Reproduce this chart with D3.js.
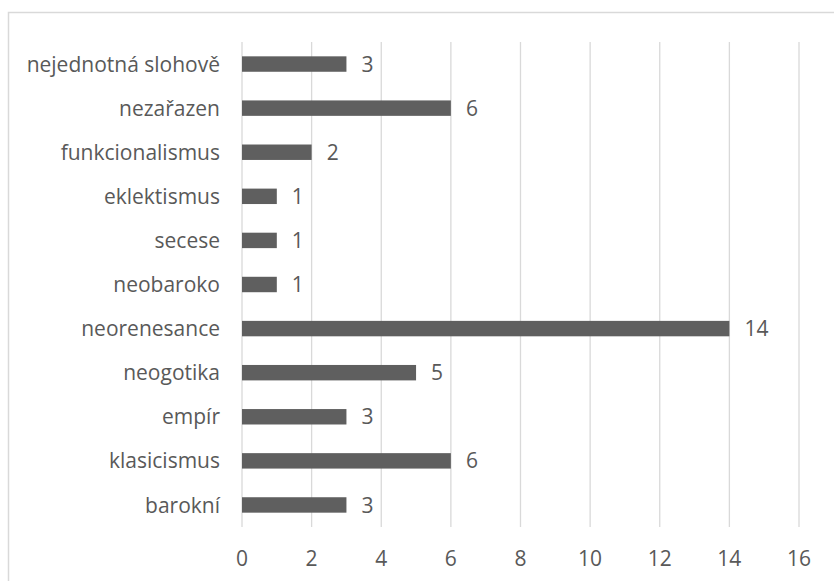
<!DOCTYPE html>
<html>
<head>
<meta charset="utf-8">
<script src="https://cdn.jsdelivr.net/npm/d3@7"></script>
<style>
    body { margin: 0; background: #fff; }
    text { font-family: "Open Sans", sans-serif; fill: #595959; }
</style>
</head>
<body>
<div id="viz"></div>
<script>
// categories top to bottom, as in the chart
let styles = ['nejednotná slohově', 'nezařazen', 'funkcionalismus', 'eklektismus', 'secese', 'neobaroko', 'neorenesance', 'neogotika', 'empír', 'klasicismus', 'barokní'];
let counts = [3, 6, 2, 1, 1, 1, 14, 5, 3, 6, 3];
let ticks = [0, 2, 4, 6, 8, 10, 12, 14, 16];

window.onload = function () {
    graph()
}

function graph() {
    let width = 834,
        height = 581;
    let margin = {top: 42, right: 35, bottom: 54, left: 242};

    const svg = d3.select("#viz")
        .append('svg')
        .attr('width', width)
        .attr('height', height);

    // chart border (right / bottom edges sit outside the picture)
    svg.append('rect')
        .attr('x', 8.5)
        .attr('y', 12.5)
        .attr('width', 840)
        .attr('height', 600)
        .attr('fill', 'none')
        .attr('stroke', '#d9d9d9')
        .attr('stroke-width', 1.5);

    const x = d3.scaleLinear()
        .domain([0, 16])
        .range([margin.left, width - margin.right]);

    const y = d3.scaleBand()
        .domain(styles)
        .range([margin.top, height - margin.bottom])
        .paddingInner(0.65)
        .paddingOuter(0.325);

    // vertical gridlines
    svg.append('g')
        .selectAll('line')
        .data(ticks)
        .join('line')
        .attr('x1', d => x(d))
        .attr('x2', d => x(d))
        .attr('y1', margin.top)
        .attr('y2', height - margin.bottom)
        .attr('stroke', '#d9d9d9')
        .attr('stroke-width', 1.3);

    // x tick labels
    svg.append('g')
        .selectAll('text')
        .data(ticks)
        .join('text')
        .attr('x', d => x(d))
        .attr('y', 558)
        .attr('dy', '0.36em')
        .attr('text-anchor', 'middle')
        .style('font-size', '21px')
        .text(d => d);

    // bars
    svg.append('g')
        .selectAll('rect')
        .data(styles)
        .join('rect')
        .attr('x', x(0))
        .attr('y', d => y(d))
        .attr('width', (d, i) => x(counts[i]) - x(0))
        .attr('height', y.bandwidth())
        .attr('fill', '#5f5f5f');

    // category labels
    svg.append('g')
        .selectAll('text')
        .data(styles)
        .join('text')
        .attr('x', 220)
        .attr('y', d => y(d) + y.bandwidth() / 2)
        .attr('dy', '0.36em')
        .attr('text-anchor', 'end')
        .style('font-size', '21px')
        .text(d => d);

    // value labels
    svg.append('g')
        .selectAll('text')
        .data(styles)
        .join('text')
        .attr('x', (d, i) => x(counts[i]) + 15)
        .attr('y', d => y(d) + y.bandwidth() / 2)
        .attr('dy', '0.36em')
        .style('font-size', '21px')
        .text((d, i) => counts[i]);
}
</script>
</body>
</html>
